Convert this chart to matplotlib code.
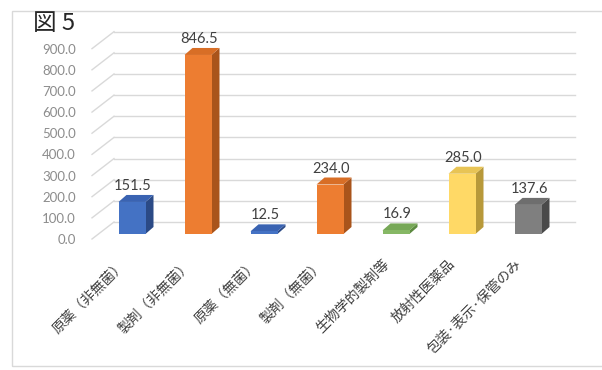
import matplotlib
matplotlib.use("Agg")
import matplotlib.pyplot as plt
from matplotlib.patches import Polygon, Rectangle
import numpy as np

categories = ["原薬（非無菌）", "製剤（非無菌）", "原薬（無菌）", "製剤（無菌）",
              "生物学的製剤等", "放射性医薬品", "包装·表示·保管のみ"]
values = [151.5, 846.5, 12.5, 234.0, 16.9, 285.0, 137.6]
value_labels = ["151.5", "846.5", "12.5", "234.0", "16.9", "285.0", "137.6"]
ytick_values = [0, 100, 200, 300, 400, 500, 600, 700, 800, 900]
ytick_labels = ["0.0", "100.0", "200.0", "300.0", "400.0", "500.0",
                "600.0", "700.0", "800.0", "900.0"]
title = "図 5"

front_colors = ["#4472C4", "#ED7D31", "#4472C4", "#ED7D31", "#86B865", "#FFD966", "#7F7F7F"]
top_colors = ["#3A63B2", "#D86E26", "#3A63B2", "#D86E26", "#77A857", "#E8C455", "#6E6E6E"]
side_colors = ["#2B4A86", "#A9541B", "#2B4A86", "#A9541B", "#5C8A40", "#B8993A", "#4A4A4A"]

W, H = 602, 370
fig = plt.figure(figsize=(W / 100, H / 100), dpi=100)
ax = fig.add_axes([0, 0, 1, 1])

# scale: category i -> pixel x0 + step*i ; value v -> pixel (from top) floor - k*v
x0, step = 132.0, 66.0
floor, k = 234.0, 0.2115
ax.set_xlim((0 - x0) / step, (W - x0) / step)
ax.set_ylim((floor - H) / k, floor / k)
ax.axis("off")

def px_x(p):  # pixel width -> category units
    return p / step

def px_y(p):  # pixel height -> value units
    return p / k

# frame
ax.add_patch(Rectangle((px_x(12 - x0), px_y(floor - 366)), px_x(602), px_y(355),
                       fill=False, edgecolor="#D9D9D9", lw=1.0, zorder=0))

# gridlines (back wall) and diagonal side wall lines
wall_left = px_x(114 - x0)
wall_right = px_x(575 - x0)
diag_left = px_x(92 - x0)
wall_off = px_y(12)
for v, lab in zip(ytick_values, ytick_labels):
    ax.plot([wall_left, wall_right], [v + wall_off, v + wall_off],
            color="#D9D9D9", lw=1.0, zorder=1)
    ax.plot([diag_left, wall_left], [v - px_y(5), v + wall_off],
            color="#D9D9D9", lw=1.0, zorder=1)
    ax.text(px_x(76 - x0), v - px_y(6), lab, ha="right", va="center",
            fontsize=9.5, color="#8C8C8C", family="Lato")

# bars (pseudo-3D)
half = px_x(13.5)
ddx, ddy = px_x(8), px_y(7)
for i, (v, fc, tc, sc) in enumerate(zip(values, front_colors, top_colors, side_colors)):
    l, r = i - half, i + half
    ax.add_patch(Polygon([(r, 0), (r + ddx, ddy), (r + ddx, v + ddy), (r, v)],
                         closed=True, facecolor=sc, edgecolor="none", zorder=3))
    ax.add_patch(Polygon([(l, v), (r, v), (r + ddx, v + ddy), (l + ddx, v + ddy)],
                         closed=True, facecolor=tc, edgecolor="none", zorder=3))
    ax.add_patch(Polygon([(l, 0), (r, 0), (r, v), (l, v)],
                         closed=True, facecolor=fc, edgecolor="none", zorder=4))
    ax.text(i + px_x(1), v + px_y(16), value_labels[i], ha="center", va="center",
            fontsize=10.5, color="#404040", family="Lato")

# category labels
for i, c in enumerate(categories):
    ax.text(i - px_x(9), -px_y(28), c, ha="right", va="center", rotation=45,
            rotation_mode="anchor", fontsize=10, color="#404040",
            family=["Noto Sans CJK JP", "DejaVu Sans"])

# title
ax.text(px_x(33 - x0), px_y(floor - 24), title, ha="left", va="center",
        fontsize=17, color="#262626", family=["Noto Sans CJK JP", "DejaVu Sans"])

fig.savefig("out.png", dpi=100)
